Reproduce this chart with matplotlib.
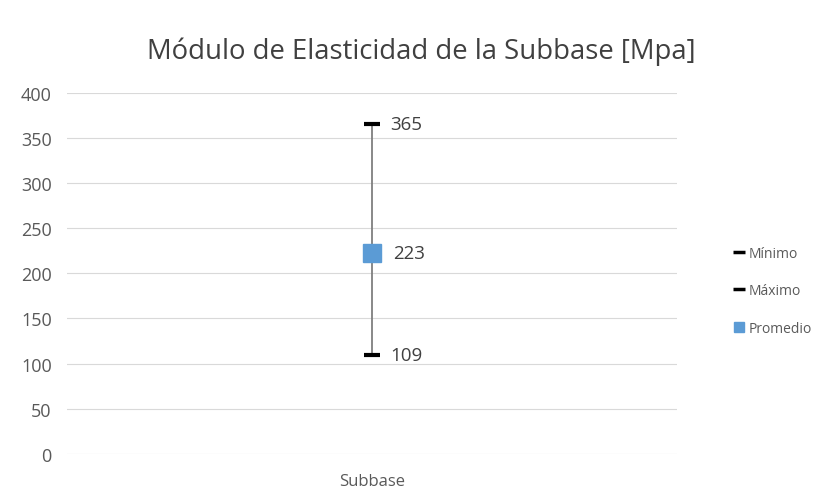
import matplotlib.pyplot as plt
from matplotlib.lines import Line2D

categories = ["Subbase"]
minimo = [109]
maximo = [365]
promedio = [223]

plt.rcParams['font.family'] = ['Open Sans', 'DejaVu Sans']

fig = plt.figure(figsize=(8.17, 5.02), dpi=100)
ax = fig.add_axes([0.082, 0.094, 0.747, 0.719])

x = range(len(categories))
# high-low line
ax.vlines(x, minimo, maximo, color='#7f7f7f', lw=1.3, zorder=2)
ax.plot(x, minimo, ls='none', marker='_', ms=11, mew=3, color='black', zorder=3)
ax.plot(x, maximo, ls='none', marker='_', ms=11, mew=3, color='black', zorder=3)
ax.plot(x, promedio, ls='none', marker='s', ms=13, color='#5b9bd5', zorder=4)

for xi, v in zip(x, minimo):
    ax.annotate(f"{v}", (xi, v), xytext=(13, 0), textcoords='offset points', va='center', fontsize=13.5, color='#404040')
for xi, v in zip(x, maximo):
    ax.annotate(f"{v}", (xi, v), xytext=(13, 0), textcoords='offset points', va='center', fontsize=13.5, color='#404040')
for xi, v in zip(x, promedio):
    ax.annotate(f"{v}", (xi, v), xytext=(15, 0), textcoords='offset points', va='center', fontsize=13.5, color='#404040')

ax.set_xlim(-0.5, len(categories) - 0.5)
ax.set_ylim(0, 400)
ax.set_yticks(range(0, 401, 50))
ax.set_xticks(list(x))
ax.set_xticklabels(categories)
ax.grid(True, axis='y', color='#d9d9d9', lw=0.8)
ax.set_axisbelow(True)
for s in ax.spines.values():
    s.set_visible(False)
ax.tick_params(length=0, labelsize=13, labelcolor='#595959', pad=11)
ax.tick_params(axis='x', labelsize=12, pad=14)

fig.text(0.516, 0.896, "Módulo de Elasticidad de la Subbase [Mpa]", ha='center', va='center',
         fontsize=19.8, color='#404040')

handles = [
    Line2D([], [], ls='none', marker='_', ms=8, mew=2.5, color='black'),
    Line2D([], [], ls='none', marker='_', ms=8, mew=2.5, color='black'),
    Line2D([], [], ls='none', marker='s', ms=6.5, color='#5b9bd5'),
]
ax.legend(handles, ['Mínimo', 'Máximo', 'Promedio'], loc='center left', bbox_to_anchor=(1.083, 0.452),
          frameon=False, fontsize=10, labelcolor='#595959', handlelength=0.6,
          handletextpad=0.4, labelspacing=1.62, borderpad=0)

fig.savefig("out.png", dpi=100)
